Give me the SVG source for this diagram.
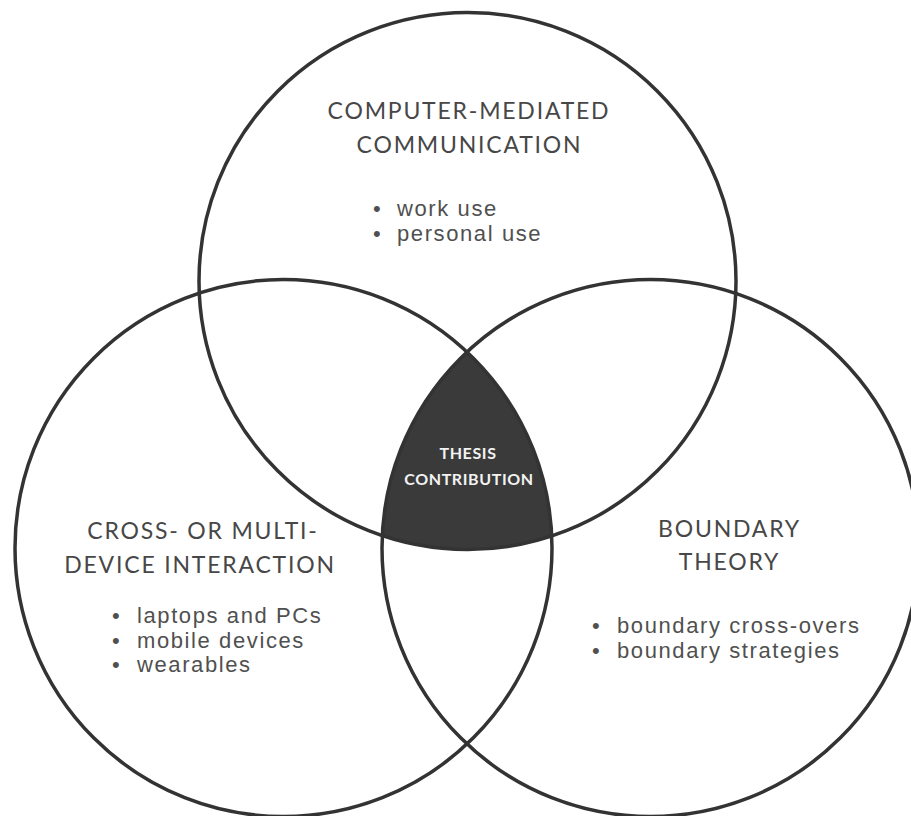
<svg xmlns="http://www.w3.org/2000/svg" width="911" height="816" viewBox="0 0 911 816">
  <style>
    .ring { fill: none; stroke: #333333; stroke-width: 3.5; }
    .head { font-family: Lato, "Liberation Sans", sans-serif; font-size: 23px; fill: #474747; letter-spacing: 1.8px; text-anchor: middle; }
    .item { font-family: "Liberation Sans", Arial, sans-serif; font-size: 22px; fill: #505050; letter-spacing: 1.6px; }
    .thesis { font-family: Lato, "Liberation Sans", sans-serif; font-size: 16px; font-weight: bold; fill: #f2f2f2; letter-spacing: 0.6px; text-anchor: middle; }
  </style>
  <rect width="911" height="816" fill="#ffffff"/>

  <g id="thesis-contribution">
    <path d="M 467 352 A 268.5 268.5 0 0 0 383.3 535.9 A 268.5 268.5 0 0 0 551.7 535.9 A 268.5 268.5 0 0 0 467 352 Z" fill="#3a3a3a"/>
    <text class="thesis" x="468" y="459">THESIS</text>
    <text class="thesis" x="469" y="485">CONTRIBUTION</text>
  </g>

  <g id="computer-mediated-communication">
    <circle class="ring" cx="467.5" cy="281" r="268.5"/>
    <text class="head" x="469" y="119">COMPUTER-MEDIATED</text>
    <text class="head" x="469.5" y="153">COMMUNICATION</text>
    <text class="item"><tspan x="373" y="216">•</tspan><tspan x="397" y="216">work use</tspan><tspan x="373" y="240.6">•</tspan><tspan x="397" y="240.6">personal use</tspan></text>
  </g>

  <g id="cross-device-interaction">
    <circle class="ring" cx="283.5" cy="548" r="268.5"/>
    <text class="head" x="203" y="539">CROSS- OR MULTI-</text>
    <text class="head" x="200" y="573">DEVICE INTERACTION</text>
    <text class="item"><tspan x="112" y="623">•</tspan><tspan x="137" y="623">laptops and PCs</tspan><tspan x="112" y="647.6">•</tspan><tspan x="137" y="647.6">mobile devices</tspan><tspan x="112" y="672.2">•</tspan><tspan x="137" y="672.2">wearables</tspan></text>
  </g>

  <g id="boundary-theory">
    <circle class="ring" cx="650.5" cy="548" r="268.5"/>
    <text class="head" x="729.5" y="537">BOUNDARY</text>
    <text class="head" x="729.5" y="570">THEORY</text>
    <text class="item"><tspan x="592" y="633">•</tspan><tspan x="617" y="633">boundary cross-overs</tspan><tspan x="592" y="657.6">•</tspan><tspan x="617" y="657.6">boundary strategies</tspan></text>
  </g>
</svg>
